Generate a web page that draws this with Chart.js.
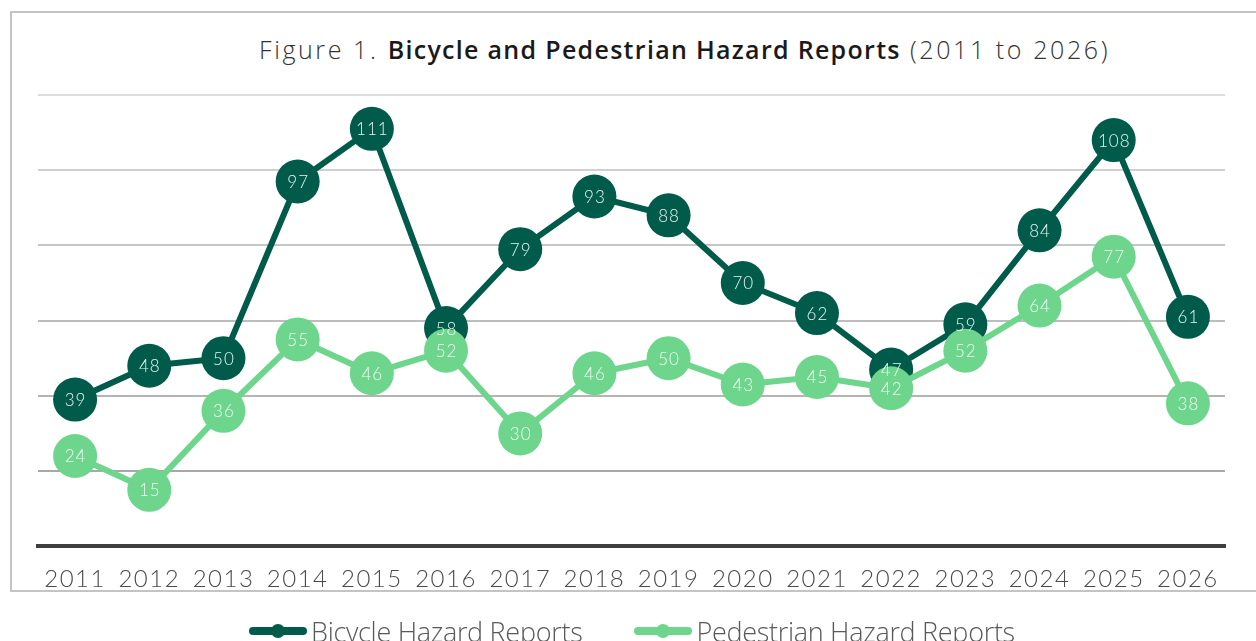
<!DOCTYPE html>
<html>
<head>
<meta charset="utf-8">
<script src="https://cdn.jsdelivr.net/npm/chart.js@4.4.1/dist/chart.umd.min.js"></script>
<style>
  html, body { margin: 0; padding: 0; background: #fff; }
  #wrap { position: relative; width: 1256px; height: 641px; overflow: hidden; }
  #frame { position: absolute; left: 10px; top: 11px; width: 1300px; height: 577px; border: 2px solid #c4c4c4; }
  #title { position: absolute; left: 259px; top: 32px; font-family: "Open Sans", sans-serif; font-size: 25px; font-weight: 300; color: #333; white-space: nowrap; letter-spacing: 2.6px; }
  #title b { font-weight: 600; color: #1a1a1a; letter-spacing: 1.3px; }
  #legend { position: absolute; left: 249px; top: 610px; font-family: "Open Sans", sans-serif; font-size: 27px; font-weight: 300; color: #595959; white-space: nowrap; letter-spacing: -0.3px; }
  #legend span { display: inline-flex; align-items: center; margin-right: 52px; }
  #legend svg { margin-right: 4px; }
  canvas { position: absolute; left: 0; top: 0; }
</style>
</head>
<body>
<div id="wrap">
  <div id="frame"></div>
  <div id="title">Figure 1. <b>Bicycle and Pedestrian Hazard Reports</b> (2011 to 2026)</div>
  <canvas id="myChart" width="1256" height="641"></canvas>
  <div id="legend"></div>
</div>
<script>
const years = ['2011','2012','2013','2014','2015','2016','2017','2018','2019','2020','2021','2022','2023','2024','2025','2026'];
const bicycle = [39, 48, 50, 97, 111, 58, 79, 93, 88, 70, 62, 47, 59, 84, 108, 61];
const pedestrian = [24, 15, 36, 55, 46, 52, 30, 46, 50, 43, 45, 42, 52, 64, 77, 38];

const darkGreen = '#005b4a';
const lightGreen = '#6dd68c';

// values written inside the circles
const pointLabels = {
  id: 'pointLabels',
  afterDatasetsDraw(chart) {
    const ctx = chart.ctx;
    ctx.save();
    ctx.font = '300 17px Lato, sans-serif';
    ctx.letterSpacing = '1px';
    ctx.fillStyle = 'rgba(255,255,255,0.92)';
    ctx.textAlign = 'center';
    ctx.textBaseline = 'middle';
    chart.data.datasets.forEach((ds, i) => {
      chart.getDatasetMeta(i).data.forEach((pt, j) => {
        ctx.fillText(ds.data[j], pt.x + 0.5, pt.y + 1);
      });
    });
    ctx.restore();
  }
};

// wider spacing on the year labels
const tickSpacing = {
  id: 'tickSpacing',
  beforeDraw(chart) { chart.ctx.letterSpacing = '1.5px'; }
};

const gridColors = { 20: '#a8a8a8', 40: '#b4b4b4', 60: '#bdbdbd', 80: '#c6c6c6', 100: '#d0d0d0', 120: '#dcdcdc' };

const myChart = new Chart(document.getElementById('myChart'), {
  type: 'line',
  data: {
    labels: years,
    datasets: [{
      label: 'Bicycle Hazard Reports',
      data: bicycle,
      borderColor: darkGreen,
      backgroundColor: darkGreen,
      borderWidth: 6,
      pointRadius: 22,
      pointHoverRadius: 22,
      pointBorderWidth: 0,
      order: 2
    }, {
      label: 'Pedestrian Hazard Reports',
      data: pedestrian,
      borderColor: lightGreen,
      backgroundColor: lightGreen,
      borderWidth: 6,
      pointRadius: 22,
      pointHoverRadius: 22,
      pointBorderWidth: 0,
      order: 1
    }]
  },
  options: {
    responsive: false,
    animation: false,
    layout: { padding: { left: 38, right: 31, top: 95, bottom: 28 } },
    plugins: {
      tooltip: { enabled: false },
      legend: { display: false }
    },
    scales: {
      x: {
        offset: true,
        grid: { display: false, drawTicks: false },
        border: { display: true, color: '#3f3f3f', width: 4 },
        ticks: { color: '#4a4a4a', padding: 19, font: { family: 'Lato', size: 24, weight: '300' } }
      },
      y: {
        min: 0,
        max: 120,
        ticks: { display: false, stepSize: 20 },
        border: { display: false },
        grid: {
          drawTicks: false,
          lineWidth: 2,
          color: c => c.tick.value === 0 ? 'rgba(0,0,0,0)' : gridColors[c.tick.value]
        }
      }
    }
  },
  plugins: [tickSpacing, pointLabels]
});

// legend under the frame
const legend = document.getElementById('legend');
myChart.data.datasets.forEach(ds => {
  const item = document.createElement('span');
  item.innerHTML = '<svg width="58" height="16"><line x1="4" y1="8" x2="54" y2="8" stroke="' + ds.borderColor +
    '" stroke-width="8" stroke-linecap="round"/><circle cx="29" cy="8" r="7" fill="' + ds.borderColor + '"/></svg>' + ds.label;
  legend.appendChild(item);
});
</script>
</body>
</html>
